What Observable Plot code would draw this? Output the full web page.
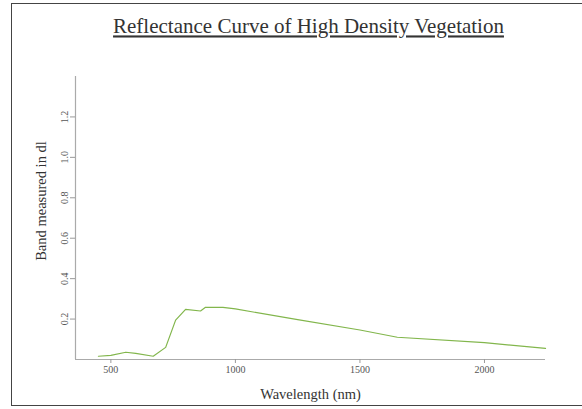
<!DOCTYPE html>
<html>
<head>
<meta charset="utf-8">
<script src="https://cdn.jsdelivr.net/npm/d3@7"></script>
<script src="https://cdn.jsdelivr.net/npm/@observablehq/plot@0.6"></script>
<style>
  html, body { margin: 0; padding: 0; background: #fff; overflow: hidden; width: 582px; height: 409px; }
  #wrap { position: relative; width: 582px; height: 409px; }
  #border { position: absolute; left: 11px; top: 3px; width: 600px; height: 401px; border: 1.5px solid #444; pointer-events: none; }
  #chart { position: absolute; left: 0; top: 0; }
  #chart svg, #chart svg text { font-family: "Liberation Serif", "Times New Roman", serif !important; }
</style>
</head>
<body>
<div id="wrap"><div id="chart"></div><div id="border"></div></div>
<script>
const titleText = "Reflectance Curve of High Density Vegetation";
const xLabel = "Wavelength (nm)";
const yLabel = "Band measured in dl";
const wavelength = [450, 500, 560, 600, 670, 720, 760, 800, 860, 880, 950, 1000, 1250, 1500, 1650, 2000, 2245];
const reflectance = [0.016, 0.02, 0.036, 0.03, 0.016, 0.06, 0.195, 0.248, 0.24, 0.258, 0.258, 0.25, 0.197, 0.146, 0.11, 0.083, 0.055];
const xTicks = [500, 1000, 1500, 2000];
const yTicks = [0.2, 0.4, 0.6, 0.8, 1.0, 1.2];

const data = wavelength.map((w, i) => ({w, r: reflectance[i]}));
const serif = "Liberation Serif";

const plot = Plot.plot({
  width: 582,
  height: 409,
  marginLeft: 75,
  marginRight: 37,
  marginTop: 76,
  marginBottom: 50,
  style: {background: "transparent"},
  x: {domain: [358, 2245]},
  y: {domain: [0, 1.4]},
  marks: [
    Plot.ruleY([0], {stroke: "#aaa", strokeWidth: 1.2}),
    Plot.ruleX([358], {y1: 0, y2: 1.4, stroke: "#aaa", strokeWidth: 1.2}),
    Plot.axisX(xTicks, {tickSize: 4, tickPadding: 2, fontSize: 10, fontFamily: serif, color: "#555", stroke: "#999", label: null, tickFormat: d3.format("d")}),
    Plot.axisY(yTicks, {tickSize: 5, tickPadding: 3, tickRotate: -90, fontSize: 10, fontFamily: serif, color: "#555", stroke: "#999", label: null, tickFormat: d3.format(".1f")}),
    Plot.line(data, {x: "w", y: "r", stroke: "#82b64c", strokeWidth: 1.2}),
    Plot.text([titleText], {frameAnchor: "top", dx: -2, dy: -58, fontSize: 21, fontFamily: serif, fill: "#333"}),
    Plot.text([xLabel], {frameAnchor: "bottom", dy: 39, fontSize: 14.5, fontFamily: serif, fill: "#333"}),
    Plot.text([yLabel], {frameAnchor: "left", dx: -34, dy: -17, rotate: -90, textAnchor: "middle", fontSize: 14.5, fontFamily: serif, fill: "#333"})
  ]
});
d3.select(plot).selectAll("text").filter(function() { return this.textContent === titleText; })
  .attr("text-decoration", "underline");
document.getElementById("chart").appendChild(plot);
</script>
</body>
</html>
